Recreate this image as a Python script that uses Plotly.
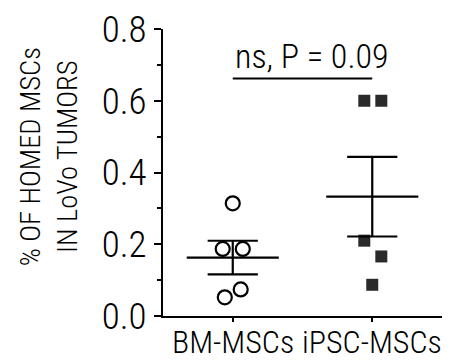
import numpy as np
import plotly.graph_objects as go

# Homing data: % of homed MSCs in LoVo tumors, per animal
categories = ["BM-MSCs", "iPSC-MSCs"]
bm_values = [0.314, 0.187, 0.187, 0.052, 0.074]
ipsc_values = [0.600, 0.600, 0.210, 0.166, 0.087]
# horizontal scatter offsets so overlapping points stay visible
bm_jitter = [0.0, -0.072, 0.072, -0.057, 0.057]
ipsc_jitter = [-0.057, 0.065, -0.057, 0.065, 0.0]
y_ticks = [0.0, 0.2, 0.4, 0.6, 0.8]
p_label = "ns, P = 0.09"
y_title = "% OF HOMED MSCs<br>IN LoVo TUMORS"

FONT = "Roboto Condensed, DejaVu Sans Condensed, sans-serif"
W = 300  # light weight

fig = go.Figure()


def mean_sem(vals):
    a = np.asarray(vals, dtype=float)
    return a.mean(), a.std(ddof=1) / np.sqrt(len(a))


groups = [
    (bm_values, bm_jitter, dict(symbol="circle-open", size=14, color="black",
                                line=dict(width=2.2, color="black"))),
    (ipsc_values, ipsc_jitter, dict(symbol="square", size=12, color="#2a2a2a",
                                    line=dict(width=0))),
]

for i, (vals, jit, mk) in enumerate(groups):
    fig.add_trace(go.Scatter(
        x=[i + j for j in jit], y=vals, mode="markers",
        marker=mk, showlegend=False, hoverinfo="skip", cliponaxis=False))
    m, s = mean_sem(vals)
    mean_hw, cap_hw = 0.33, 0.18
    line = dict(color="black", width=2.2)
    # mean bar
    fig.add_trace(go.Scatter(x=[i - mean_hw, i + mean_hw], y=[m, m], mode="lines",
                             line=line, showlegend=False, hoverinfo="skip"))
    # SEM whisker
    fig.add_trace(go.Scatter(x=[i, i], y=[m - s, m + s], mode="lines",
                             line=line, showlegend=False, hoverinfo="skip"))
    for yy in (m - s, m + s):
        fig.add_trace(go.Scatter(x=[i - cap_hw, i + cap_hw], y=[yy, yy], mode="lines",
                                 line=line, showlegend=False, hoverinfo="skip"))

# significance bracket between the two groups
sig_y = 0.662
fig.add_trace(go.Scatter(x=[0, 1], y=[sig_y, sig_y], mode="lines",
                         line=dict(color="black", width=2.2),
                         showlegend=False, hoverinfo="skip"))
fig.add_annotation(x=0, y=sig_y, xref="x", yref="y", text=p_label,
                   showarrow=False, xanchor="left", yanchor="bottom", yshift=1,
                   font=dict(family=FONT, size=34, color="black", weight=W))

# category labels under the x axis
for i, cat in enumerate(categories):
    fig.add_annotation(x=i, y=0, xref="x", yref="paper", text=cat,
                       showarrow=False, xanchor="center", yanchor="top", yshift=-5,
                       font=dict(family=FONT, size=32, color="black", weight=W))

# y-axis title, two lines, rotated
fig.add_annotation(x=-0.41, y=0.555, xref="paper", yref="paper", text=y_title,
                   showarrow=False, textangle=-90, xanchor="center", yanchor="middle",
                   font=dict(family=FONT, size=28.5, color="black", weight=W))

fig.update_layout(
    width=457, height=364,
    margin=dict(l=163, r=15, t=29, b=48),
    plot_bgcolor="white", paper_bgcolor="white",
    font=dict(family=FONT, color="black", weight=W),
    xaxis=dict(
        range=[-0.5, 1.5], tickvals=[0, 1], showticklabels=False,
        automargin=False,
        showgrid=False, zeroline=False, showline=True, linecolor="black",
        linewidth=2, ticks="outside", ticklen=4, tickwidth=1.5, tickcolor="black",
    ),
    yaxis=dict(
        range=[0, 0.8], tickvals=y_ticks, ticktext=[f"{v:.1f}" for v in y_ticks],
        automargin=False,
        showgrid=False, zeroline=False, showline=True, linecolor="black",
        linewidth=2, ticks="outside", ticklen=7, tickwidth=1.5, tickcolor="black",
        tickfont=dict(family=FONT, size=37, color="black", weight=W),
        minor=dict(dtick=0.1, ticks="outside", ticklen=4, tickwidth=1.5,
                   tickcolor="black", showgrid=False),
    ),
)

fig.write_html("out.html")
